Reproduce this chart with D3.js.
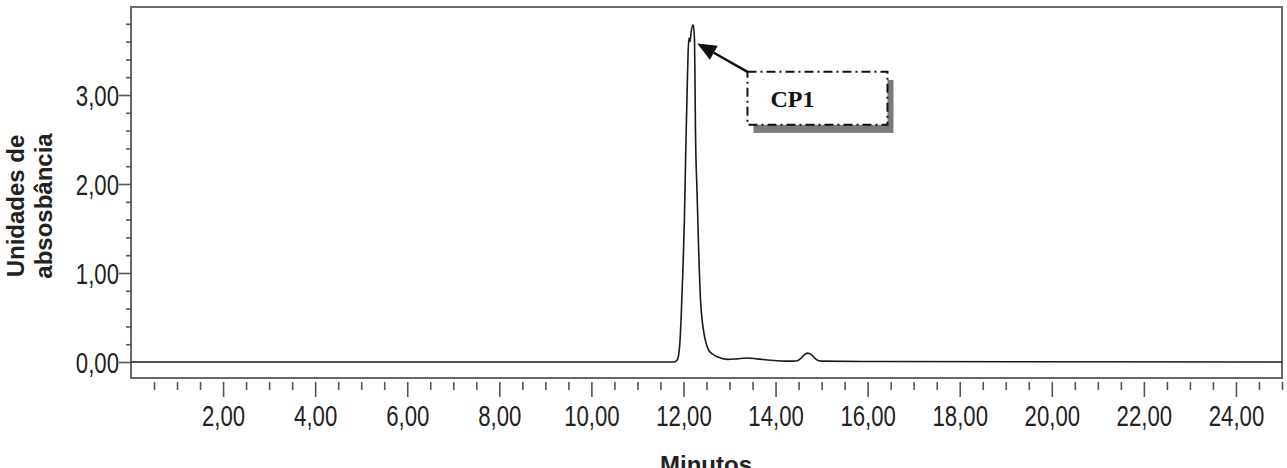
<!DOCTYPE html>
<style>
  html, body { margin:0; padding:0; background:#fff; overflow:hidden; }
  svg { display:block; }
  .tick text { font-family: "Liberation Sans", Arial, sans-serif; font-size: 30px; fill:#222; }
</style>
<svg width="1287" height="468"></svg>
<script src="https://d3js.org/d3.v7.min.js"></script>
<script>

// chromatogram trace (minutes, absorbance units)
var minutes = [0, 11.80, 11.86, 11.90, 11.93, 11.95, 11.99, 12.02, 12.05, 12.08, 12.10, 12.12, 12.14, 12.17, 12.21,
               12.24, 12.26, 12.295, 12.33, 12.37, 12.41, 12.46, 12.54, 12.63, 12.75, 12.95, 13.15, 13.38, 13.6,
               13.9, 14.2, 14.45, 14.55, 14.62, 14.70, 14.78, 14.88, 15.0, 16.3, 25];
var absorb  = [0, 0, 0.02, 0.10, 0.28, 0.51, 1.07, 1.60, 2.38, 3.06, 3.47, 3.64, 3.60, 3.72, 3.79,
               3.62, 2.61, 1.90, 1.26, 0.70, 0.45, 0.28, 0.14, 0.09, 0.056, 0.03, 0.035, 0.045, 0.035,
               0.02, 0.01, 0.012, 0.04, 0.08, 0.10, 0.08, 0.03, 0.01, 0.005, 0];

var yMajor = [0, 1, 2, 3];
var yMinor = [0.2, 0.4, 0.6, 0.8, 1.2, 1.4, 1.6, 1.8, 2.2, 2.4, 2.6, 2.8, 3.2, 3.4, 3.6, 3.8];
var xMajor = [2, 4, 6, 8, 10, 12, 14, 16, 18, 20, 22, 24];
var xMinor = [0.5, 1, 1.5, 2.5, 3, 3.5, 4.5, 5, 5.5, 6.5, 7, 7.5, 8.5, 9, 9.5, 10.5, 11, 11.5,
              12.5, 13, 13.5, 14.5, 15, 15.5, 16.5, 17, 17.5, 18.5, 19, 19.5, 20.5, 21, 21.5,
              22.5, 23, 23.5, 24.5, 25];

var callout = { label: "CP1", tipT: 12.30, tipA: 3.58, boxT: 13.39, boxA: 3.26 };

var svg = d3.select("svg");

var x = d3.scaleLinear().domain([0, 25]).range([131, 1282]);
var y = d3.scaleLinear().domain([0, 3]).range([362, 95]);

var fmt = function(d) { return d.toFixed(2).replace(".", ","); };
var squeeze = 0.74; // tick labels are set in a condensed face

// frame
svg.append("rect")
    .attr("x", 131).attr("y", 7)
    .attr("width", 1282 - 131).attr("height", 378 - 7)
    .attr("fill", "none")
    .attr("stroke", "#6a6a6a")
    .attr("stroke-width", 2);

function styleAxis(g) {
  g.select(".domain").remove();
  g.selectAll(".tick line").attr("stroke", "#555").attr("stroke-width", 1.6);
}

// y axis
svg.append("g")
    .attr("transform", "translate(131,0)")
    .call(d3.axisLeft(y).tickValues(yMinor).tickSize(5).tickFormat(""))
    .call(styleAxis);

svg.append("g")
    .attr("transform", "translate(131,0)")
    .call(d3.axisLeft(y).tickValues(yMajor).tickSize(12).tickPadding(0).tickFormat(fmt))
    .call(styleAxis)
    .selectAll("text")
      .attr("x", 0).attr("dy", "0.36em")
      .attr("transform", "translate(-12,0) scale(" + squeeze + ",1)");

// x axis
svg.append("g")
    .attr("transform", "translate(0,382)")
    .call(d3.axisBottom(x).tickValues(xMinor).tickSize(8).tickFormat(""))
    .call(styleAxis);

svg.append("g")
    .attr("transform", "translate(0,382)")
    .call(d3.axisBottom(x).tickValues(xMajor).tickSize(15).tickPadding(0).tickFormat(fmt))
    .call(styleAxis)
    .selectAll("text")
      .attr("y", 44).attr("dy", null)
      .attr("transform", "scale(" + squeeze + ",1)");

// trace
var line = d3.line()
    .x(function(d, i) { return x(minutes[i]); })
    .y(function(d) { return y(d); })
    .curve(d3.curveMonotoneX);

svg.append("path")
    .datum(absorb)
    .attr("fill", "none")
    .attr("stroke", "#1a1a1a")
    .attr("stroke-width", 1.6)
    .attr("d", line);

// axis titles
var titleFont = "'Liberation Sans', Arial, sans-serif";
[["Unidades de", 24], ["absosbância", 52]].forEach(function(l) {
  svg.append("text")
      .attr("transform", "translate(" + l[1] + ",206) rotate(-90)")
      .attr("text-anchor", "middle")
      .style("font-family", titleFont)
      .style("font-weight", "bold")
      .style("font-size", "24px")
      .attr("fill", "#222")
      .text(l[0]);
});

svg.append("text")
    .attr("x", 706).attr("y", 473)
    .attr("text-anchor", "middle")
    .style("font-family", titleFont)
    .style("font-weight", "bold")
    .style("font-size", "24px")
    .attr("fill", "#222")
    .text("Minutos");

// callout
var bx = x(callout.boxT), by = y(callout.boxA),
    tx = x(callout.tipT), ty = y(callout.tipA),
    bw = 140, bh = 53;

var ang = Math.atan2(ty - by, tx - bx), hl = 19, hw = 8;
var baseX = tx - hl * Math.cos(ang), baseY = ty - hl * Math.sin(ang);

svg.append("line")
    .attr("x1", bx).attr("y1", by)
    .attr("x2", baseX).attr("y2", baseY)
    .attr("stroke", "#111").attr("stroke-width", 2.5);

svg.append("polygon")
    .attr("points", [
      [tx, ty],
      [baseX + hw * Math.sin(ang), baseY - hw * Math.cos(ang)],
      [baseX - hw * Math.sin(ang), baseY + hw * Math.cos(ang)]
    ].map(function(p) { return p.join(","); }).join(" "))
    .attr("fill", "#111");

svg.append("rect")
    .attr("x", bx + 6).attr("y", by + 8)
    .attr("width", bw).attr("height", bh)
    .attr("fill", "#7a7a7a");

svg.append("rect")
    .attr("x", bx).attr("y", by)
    .attr("width", bw).attr("height", bh)
    .attr("fill", "#fff")
    .attr("stroke", "#111")
    .attr("stroke-width", 2)
    .attr("stroke-dasharray", "9,4,2,4");

svg.append("text")
    .attr("x", bx + 23).attr("y", by + 35)
    .style("font-family", "'Liberation Serif', 'Times New Roman', serif")
    .style("font-weight", "bold")
    .style("font-size", "24px")
    .attr("fill", "#111")
    .text(callout.label);

</script>
